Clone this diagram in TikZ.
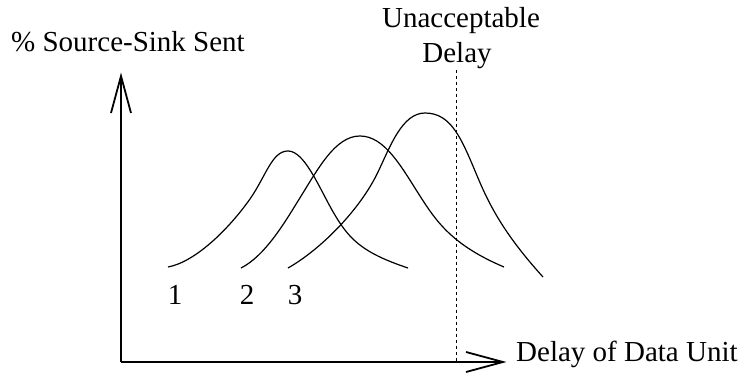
\documentclass[tikz,border=0pt]{standalone}
\usepackage{fontspec}
\setmainfont{Liberation Serif}
\begin{document}
\begin{tikzpicture}[x=1pt,y=-1pt,
  axis/.style={line width=1.8pt, line join=miter},
  curve/.style={line width=1.2pt},
  lbl/.style={font=\fontsize{29}{35}\selectfont, inner sep=0pt},
  cutoff/.style={line width=0.9pt, dash pattern=on 3pt off 3pt}]
\useasboundingbox (0,0) rectangle (740,374);
% axes
\coordinate (o) at (121,362);
\coordinate (ytip) at (121,76);
\coordinate (xtip) at (503,362);
\draw[axis] (o) -- (ytip);
\draw[axis] (o) -- (xtip);
\draw[axis] (111,113) -- (ytip) -- (131,113);
\draw[axis] (466,352) -- (xtip) -- (466,372);
% cutoff line
\coordinate (ctop) at (456,70);
\coordinate (cbot) at (456,362);
\draw[cutoff] (ctop) -- (cbot);
% curve 1
\draw[curve] (168,267) .. controls (195,262) and (228,230) .. (250,199)
  .. controls (266,176) and (272,151) .. (288,151)
  .. controls (304,151) and (318,185) .. (332,210)
  .. controls (348,238) and (360,252) .. (408,268);
% curve 2
\draw[curve] (241,268) .. controls (265,256) and (285,222) .. (298,201)
  .. controls (318,169) and (335,136) .. (360,136)
  .. controls (385,136) and (402,168) .. (420,196)
  .. controls (436,221) and (452,245) .. (504,267);
% curve 3
\draw[curve] (288,268) .. controls (320,250) and (360,210) .. (378,172)
  .. controls (390,147) and (402,113) .. (425,113)
  .. controls (452,113) and (462,140) .. (478,178)
  .. controls (490,206.5) and (505,235) .. (543,277);
% labels
\node[lbl, anchor=base east] (ylab) at (245,52) {\% Source-Sink Sent};
\node[lbl, anchor=base west] (xlab) at (516,362) {Delay of Data Unit};
\node[lbl, anchor=base] (unacc) at (461,28) {Unacceptable};
\node[lbl, anchor=base] (unacc2) at (457,63) {Delay};
\node[lbl, anchor=base] (n1) at (175,305) {1};
\node[lbl, anchor=base] (n2) at (247,305) {2};
\node[lbl, anchor=base] (n3) at (295,305) {3};
\end{tikzpicture}
\end{document}
